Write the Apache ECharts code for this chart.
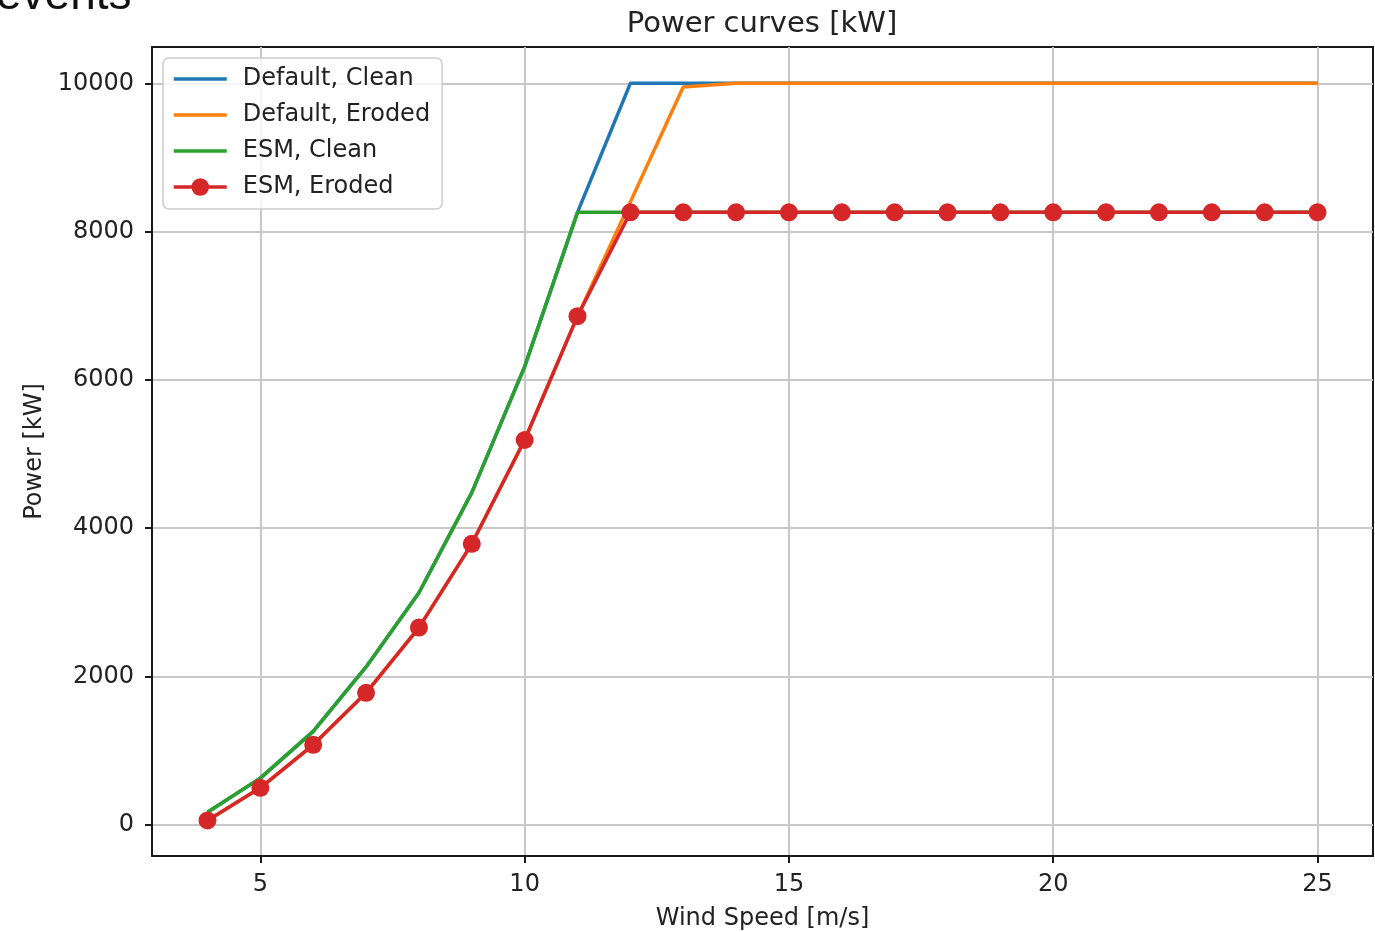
<!DOCTYPE html>
<html>
<head>
<meta charset="utf-8">
<title>Power curves [kW]</title>
<script src="https://cdn.jsdelivr.net/npm/echarts@6/dist/echarts.min.js"></script>
<style>
  html, body { margin: 0; padding: 0; background: #ffffff; }
  #chart { width: 1375px; height: 932px; }
</style>
</head>
<body>
<div id="chart"></div>
<script>
// Wind speed bins [m/s]
const windSpeed = [4, 5, 6, 7, 8, 9, 10, 11, 12, 13, 14, 15, 16, 17, 18, 19, 20, 21, 22, 23, 24, 25];

// Power output [kW] for each curve, one value per wind speed bin
const defaultClean  = [170, 630, 1260, 2130, 3130, 4480, 6180, 8260, 10000, 10000, 10000, 10000, 10000, 10000, 10000, 10000, 10000, 10000, 10000, 10000, 10000, 10000];
const defaultEroded = [60, 500, 1080, 1780, 2660, 3790, 5190, 6860, 8400, 9950, 10000, 10000, 10000, 10000, 10000, 10000, 10000, 10000, 10000, 10000, 10000, 10000];
const esmClean      = [170, 630, 1260, 2130, 3130, 4480, 6180, 8260, 8260, 8260, 8260, 8260, 8260, 8260, 8260, 8260, 8260, 8260, 8260, 8260, 8260, 8260];
const esmEroded     = [60, 500, 1080, 1780, 2660, 3790, 5190, 6860, 8260, 8260, 8260, 8260, 8260, 8260, 8260, 8260, 8260, 8260, 8260, 8260, 8260, 8260];

const seriesNames = ['Default, Clean', 'Default, Eroded', 'ESM, Clean', 'ESM, Eroded'];
const seriesColors = ['#1f77b4', '#ff7f0e', '#2ca02c', '#d62728'];
const seriesMarkers = [false, false, false, true];

// Tick positions
const xTicks = [5, 10, 15, 20, 25];
const yTicks = [0, 2000, 4000, 6000, 8000, 10000];

const FONT = 'DejaVu Sans';
const TEXT = '#222222';
const LINE_WIDTH = 3.5;

function pairs(ys) {
  return windSpeed.map((x, i) => [x, ys[i]]);
}

function lineSeries(name, color, ys, withMarkers) {
  return {
    name: name,
    type: 'line',
    data: pairs(ys),
    symbol: withMarkers ? 'circle' : 'none',
    symbolSize: 18,
    showSymbol: withMarkers,
    lineStyle: { color: color, width: LINE_WIDTH },
    itemStyle: { color: color },
    emphasis: { disabled: true },
    animation: false
  };
}

// Legend entries: plain line for curves without markers, line + dot otherwise
const legendData = seriesNames.map((name, i) => ({
  name: name,
  lineStyle: { width: LINE_WIDTH, color: seriesColors[i] },
  itemStyle: { color: seriesColors[i], opacity: seriesMarkers[i] ? 1 : 0 }
}));

const chart = echarts.init(document.getElementById('chart'), null, { renderer: 'canvas' });

chart.setOption({
  backgroundColor: '#ffffff',
  animation: false,
  title: {
    text: 'Power curves [kW]',
    left: 762,
    textAlign: 'center',
    top: 10,
    padding: 0,
    textStyle: { fontFamily: FONT, fontSize: 29, fontWeight: 'normal', color: TEXT }
  },
  graphic: [{
    type: 'text',
    left: -4,
    top: -27,
    style: { text: 'events', font: '46px "Liberation Sans"', fill: '#111111' },
    silent: true
  }],
  grid: {
    left: 152,
    right: 2,
    top: 47,
    bottom: 76,
    outerBoundsMode: 'none',
    containLabel: false,
    show: true,
    borderColor: '#1a1a1a',
    borderWidth: 2,
    backgroundColor: 'transparent'
  },
  legend: {
    orient: 'vertical',
    left: 163,
    top: 58,
    padding: [9, 12, 10, 9],
    itemGap: 12,
    itemWidth: 53,
    itemHeight: 22,
    backgroundColor: 'rgba(255,255,255,0.8)',
    borderColor: '#cccccc',
    borderWidth: 1.5,
    borderRadius: 6,
    selectedMode: false,
    data: legendData,
    textStyle: {
      fontFamily: FONT,
      fontSize: 24,
      lineHeight: 24,
      color: TEXT,
      padding: [0, 0, 0, 11]
    }
  },
  xAxis: {
    type: 'value',
    min: 2.95,
    max: 26.05,
    name: 'Wind Speed [m/s]',
    nameLocation: 'middle',
    nameGap: 51,
    nameTextStyle: { fontFamily: FONT, fontSize: 24, color: TEXT },
    axisLine: { show: true, onZero: false, lineStyle: { color: '#1a1a1a', width: 2 } },
    axisTick: { show: true, inside: false, length: 7, lineStyle: { color: '#1a1a1a', width: 2 }, customValues: xTicks },
    axisLabel: { fontFamily: FONT, fontSize: 24, color: TEXT, margin: 17, customValues: xTicks, formatter: v => String(v) },
    splitLine: { show: true, lineStyle: { color: '#c8c8c8', width: 2 } }
  },
  yAxis: {
    type: 'value',
    min: -420,
    max: 10490,
    name: 'Power [kW]',
    nameLocation: 'middle',
    nameGap: 104,
    nameTextStyle: { fontFamily: FONT, fontSize: 24, color: TEXT },
    axisLine: { show: true, onZero: false, lineStyle: { color: '#1a1a1a', width: 2 } },
    axisTick: { show: true, inside: false, length: 7, lineStyle: { color: '#1a1a1a', width: 2 }, customValues: yTicks },
    axisLabel: { fontFamily: FONT, fontSize: 24, color: TEXT, margin: 18, customValues: yTicks, formatter: v => String(v) },
    splitLine: { show: true, lineStyle: { color: '#c8c8c8', width: 2 } }
  },
  series: seriesNames.map((name, i) => {
    const values = [defaultClean, defaultEroded, esmClean, esmEroded][i];
    return lineSeries(name, seriesColors[i], values, seriesMarkers[i]);
  })
});
</script>
</body>
</html>
